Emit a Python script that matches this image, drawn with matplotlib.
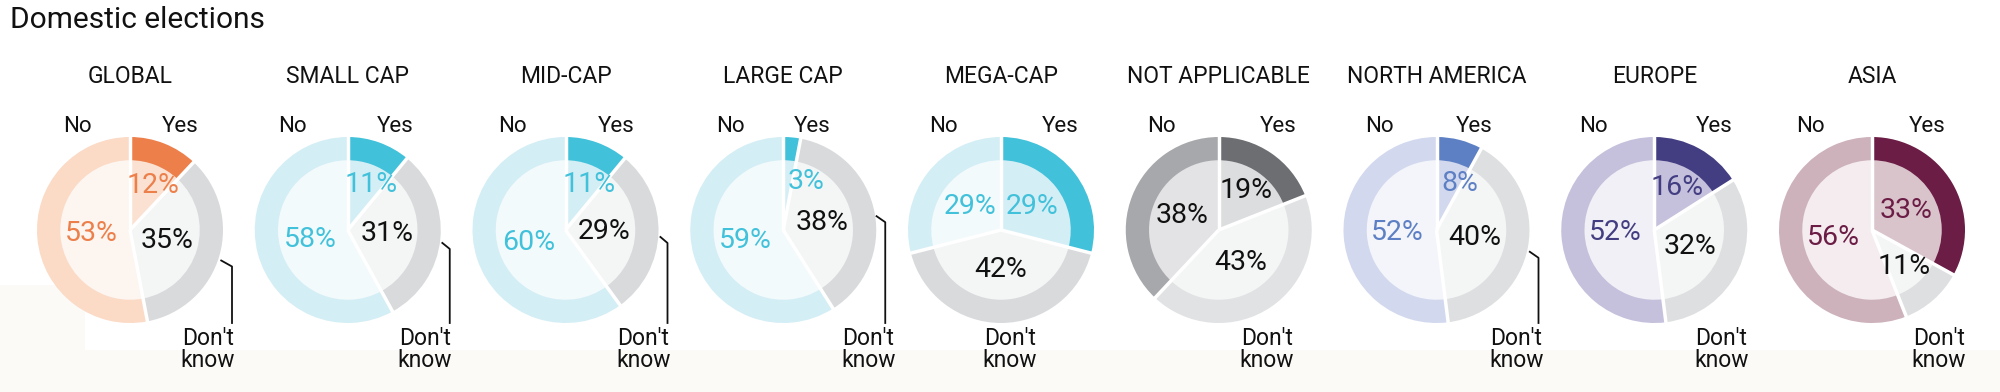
import numpy as np
import matplotlib
matplotlib.use("Agg")
from matplotlib import pyplot as plt

plt.rcParams['font.family'] = ['Roboto', 'DejaVu Sans']

# data: shares in percent, order Yes / Don't know / No
categories = ["GLOBAL", "SMALL CAP", "MID-CAP", "LARGE CAP", "MEGA-CAP",
              "NOT APPLICABLE", "NORTH AMERICA", "EUROPE", "ASIA"]
yes = [12, 11, 11, 3, 29, 19, 8, 16, 33]
dont_know = [35, 31, 29, 38, 42, 43, 40, 32, 11]
no = [53, 58, 60, 59, 29, 38, 52, 52, 56]

# palettes: ring colours, inner colours, text colour
palettes = {
    'global': (['#ec7f4a', '#d9dadc', '#fbdac6'], ['#fbe1d2', '#f4f5f5', '#fdf5f0'], '#ec7f4a'),
    'cap':    (['#41c1da', '#d9dadc', '#d4eef5'], ['#d4eef5', '#f4f5f5', '#f2fafc'], '#41c1da'),
    'na':     (['#6d6e71', '#e1e2e3', '#a7a8ab'], ['#dcdddf', '#f4f5f5', '#e3e3e5'], '#111111'),
    'nam':    (['#5d80c4', '#dedfe0', '#d2d8ee'], ['#d2d8ee', '#f4f5f5', '#f3f5fa'], '#5d80c4'),
    'eu':     (['#433e82', '#dedfe0', '#c5c1dc'], ['#c5c1dc', '#f4f5f5', '#f1f0f6'], '#433e82'),
    'asia':   (['#6b1d45', '#dedfe0', '#cdb1bb'], ['#dac4cb', '#f4f5f5', '#f4ecef'], '#6b1d45'),
}
pal_keys = ['global', 'cap', 'cap', 'cap', 'cap', 'na', 'nam', 'eu', 'asia']

# layout
W, H = 2000, 392
R = 93
cx0, step = 130, 217.75
cy = H - 230
no_dx = [-53, -55, -53, -53, -58, -57, -57, -61, -62]
yes_dx = [50, 47, 51, 29, 59, 59, 38, 60, 55]
dk_dx = [78, 77, 78, 85, 9, 48, 80, 67, 67]
leader = [True, True, True, True, False, False, True, False, False]

fig = plt.figure(figsize=(20, 3.92), dpi=100)
ax = fig.add_axes([0, 0, 1, 1])

# faint beige background at the bottom
bg = '#fbfaf7'
ax.axhspan(0, H - 350, color=bg, zorder=0, lw=0)
ax.fill_between([0, 85], H - 350, H - 285, color=bg, zorder=0, lw=0)

ax.text(10, H - 20, "Domestic elections", fontsize=21.5, va='center', ha='left', color='#111111')

for i, cat in enumerate(categories):
    cx = cx0 + i * step
    vals = [yes[i], dont_know[i], no[i]]
    ring, inner, tcol = palettes[pal_keys[i]]

    ax.pie(vals, radius=R, center=(cx, cy), colors=ring, startangle=90,
           counterclock=False, wedgeprops=dict(linewidth=0))
    ax.pie(vals, radius=0.75 * R, center=(cx, cy), colors=inner, startangle=90,
           counterclock=False, wedgeprops=dict(linewidth=0))

    # white separators
    cum = np.cumsum([0] + vals) / 100.0
    for c in cum[:3]:
        a = np.pi / 2 - 2 * np.pi * c
        ax.plot([cx, cx + (R + 1) * np.cos(a)], [cy, cy + (R + 1) * np.sin(a)],
                color='white', lw=2.5, solid_capstyle='butt', zorder=5)

    # percentage labels
    cols = [tcol, '#111111', tcol]
    for k in range(3):
        frac = vals[k] / 100.0
        mid = (cum[k] + cum[k + 1]) / 2
        a = np.pi / 2 - 2 * np.pi * mid
        r = 0.42 * R if frac >= 0.25 else 0.52 * R
        x = r * np.cos(a)
        y = r * np.sin(a)
        if k == 0:
            x = max(x, 0.25 * R)
        ax.text(cx + x, cy + y, f"{vals[k]}%", fontsize=20.5, color=cols[k],
                ha='center', va='center', zorder=6)

    ax.text(cx, H - 76, cat, fontsize=16.5, ha='center', va='center', color='#111111')
    ax.text(cx + no_dx[i], H - 126, "No", fontsize=16, ha='center', va='center', color='#111111')
    ax.text(cx + yes_dx[i], H - 126, "Yes", fontsize=16, ha='center', va='center', color='#111111')

    # Don't know label
    ax.text(cx + dk_dx[i], H - 327, "Don't\nknow", fontsize=16.5, ha='center', va='top',
            linespacing=0.95, color='#111111')
    if leader[i]:
        mid = (cum[1] + cum[2]) / 2
        a = np.pi / 2 - 2 * np.pi * mid
        sx, sy = cx + (R + 2) * np.cos(a), cy + (R + 2) * np.sin(a) - 4
        lx = cx + R + 9
        ax.plot([sx, lx, lx], [sy, sy - 6, cy - R], color='#111111', lw=1.3, zorder=6)

ax.set_xlim(0, W)
ax.set_ylim(0, H)
ax.set_aspect('equal')
ax.axis('off')
fig.savefig("out.png", dpi=100, facecolor='white')
